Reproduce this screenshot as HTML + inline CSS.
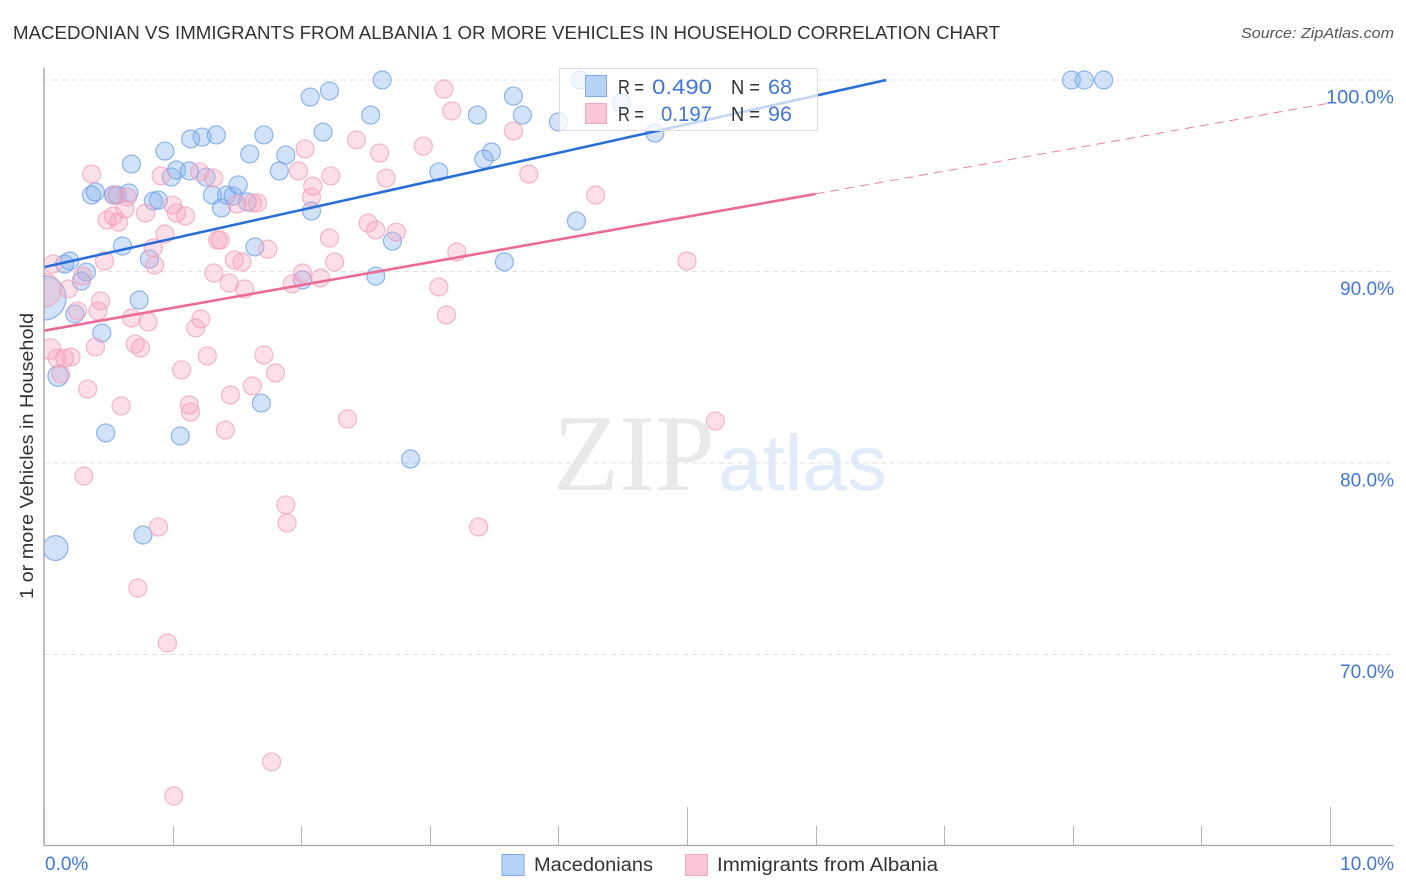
<!DOCTYPE html>
<html lang="en">
<head>
<meta charset="utf-8">
<title>Macedonian vs Immigrants from Albania correlation chart</title>
<style>
html,body{margin:0;padding:0;background:#fff;width:1406px;height:892px;overflow:hidden}
svg{display:block;font-family:"Liberation Sans",sans-serif}
</style>
</head>
<body>
<svg id="chart" xmlns="http://www.w3.org/2000/svg" width="1406" height="892" viewBox="0 0 1406 892">
  <defs><clipPath id="plot-clip"><rect x="44" y="60" width="1350" height="785"/></clipPath></defs>
  <g>
    <text x="553" y="490" font-family="'Liberation Serif',serif" font-size="109" fill="#e9e9e9" textLength="162" lengthAdjust="spacingAndGlyphs">ZIP</text>
    <text x="718" y="490" font-size="79" fill="#e1ebf9" textLength="169" lengthAdjust="spacingAndGlyphs">atlas</text>
  </g>
  <g id="grid"></g>
  <g id="points" clip-path="url(#plot-clip)"></g>
  <rect x="10" y="60" width="33.5" height="790" fill="#fff"/>
  <g id="lines"></g>
  <g id="axes"></g>
  <text x="13" y="39" font-size="18.5" fill="#333" textLength="987" lengthAdjust="spacingAndGlyphs">MACEDONIAN VS IMMIGRANTS FROM ALBANIA 1 OR MORE VEHICLES IN HOUSEHOLD CORRELATION CHART</text>
  <text x="1394" y="38" font-size="15" font-style="italic" fill="#555" text-anchor="end" textLength="153" lengthAdjust="spacingAndGlyphs">Source: ZipAtlas.com</text>
  <text transform="translate(33,456) rotate(-90)" font-size="18" fill="#333" text-anchor="middle" textLength="286" lengthAdjust="spacingAndGlyphs">1 or more Vehicles in Household</text>
  <g>
    <rect x="559.5" y="68.5" width="258" height="62" fill="#fff" fill-opacity="0.72" stroke="#ddd"/>
    <rect x="585.5" y="75.5" width="21" height="21" fill="#b6d2f7" stroke="#7fa9e6"/>
    <rect x="585.5" y="103.5" width="21" height="20" fill="#fcc6d8" stroke="#f2a9c0"/>
    <text x="618" y="94" font-size="20" fill="#333" textLength="26" lengthAdjust="spacingAndGlyphs">R =</text>
    <text x="652" y="94" font-size="21" fill="#4177d8" textLength="60" lengthAdjust="spacingAndGlyphs">0.490</text>
    <text x="731" y="94" font-size="20" fill="#333" textLength="29" lengthAdjust="spacingAndGlyphs">N =</text>
    <text x="768" y="94" font-size="21" fill="#4177d8" textLength="24" lengthAdjust="spacingAndGlyphs">68</text>
    <text x="618" y="121" font-size="20" fill="#333" textLength="26" lengthAdjust="spacingAndGlyphs">R =</text>
    <text x="661" y="121" font-size="21" fill="#4177d8" textLength="51" lengthAdjust="spacingAndGlyphs">0.197</text>
    <text x="731" y="121" font-size="20" fill="#333" textLength="29" lengthAdjust="spacingAndGlyphs">N =</text>
    <text x="768" y="121" font-size="21" fill="#4177d8" textLength="24" lengthAdjust="spacingAndGlyphs">96</text>
  </g>
  <g>
    <rect x="502" y="854.5" width="22" height="21" fill="#b6d2f7" stroke="#7fa9e6"/>
    <text x="534" y="871" font-size="19" fill="#333" textLength="119" lengthAdjust="spacingAndGlyphs">Macedonians</text>
    <rect x="685.5" y="854.5" width="22" height="21" fill="#fcc6d8" stroke="#f2a9c0"/>
    <text x="717" y="871" font-size="19" fill="#333" textLength="221" lengthAdjust="spacingAndGlyphs">Immigrants from Albania</text>
  </g>
</svg>
<script>
const yTicks = [100, 90, 80, 70];
const yTickLabels = ['100.0%', '90.0%', '80.0%', '70.0%'];
const xTicks = [0, 1, 2, 3, 4, 5, 6, 7, 8, 9, 10];
const xMajorTicks = [0, 5, 10];
const xEndLabels = ['0.0%', '10.0%'];

const macedonianX = [0,0.09,0.11,0.16,0.20,0.33,0.29,0.24,0.45,0.74,0.61,0.82,0.37,0.40,0.54,0.57,0.66,0.68,0.85,0.89,0.94,0.99,1.03,1.13,1.14,1.23,1.34,1.26,1.31,1.38,1.42,1.47,1.51,1.58,1.64,1.60,1.71,1.83,1.88,2.07,2.22,2.17,2.08,2.01,2.63,2.54,3.37,3.65,3.72,4.00,4.17,4.49,4.75,3.48,3.42,3.07,2.71,2.58,3.58,4.14,1.69,0.48,1.06,0.77,2.85,7.99,8.09,8.24];
const macedonianY = [88.62,75.56,84.54,90.39,90.55,89.97,89.50,87.78,86.79,88.51,91.33,90.65,93.99,94.15,93.99,93.99,94.10,95.61,93.68,93.73,96.29,94.93,95.30,95.25,96.92,97.02,97.13,94.93,93.99,93.32,93.99,93.94,94.52,93.63,91.28,96.14,97.13,95.25,96.08,99.11,99.43,97.28,93.16,89.56,100,98.17,98.17,99.16,98.17,97.81,100,98.80,97.23,96.24,95.87,95.20,91.59,89.76,90.50,92.64,83.13,81.57,81.41,76.24,80.21,100,100,100];
const macedonianHeavy = [[0, 6], [1, 1.9], [2, 1.3]];

const albaniaX = [0.37,0.91,1.21,1.32,2.03,1.98,2.09,2.23,2.08,0.65,0.63,0.49,0.54,0.58,0.79,1.00,1.03,1.10,1.50,1.62,1.66,0.94,0.85,0.86,0.47,0.07,1.35,1.37,1.48,1.54,1.74,2.22,2.26,1.32,1.44,1.56,1.93,2.01,2.15,0.19,0,0.44,0.26,0.42,0.68,0.81,1.22,1.18,0.05,0.10,0.16,0.21,0.13,0.40,0.71,0.75,1.27,1.07,1.71,1.80,1.62,1.45,0.34,0.60,1.13,1.14,1.41,2.36,0.31,1.88,1.89,0.89,0.73,0.96,1.77,1.01,3.11,3.17,2.43,2.61,2.95,2.66,3.65,3.77,4.29,2.52,2.58,2.74,3.21,5.00,3.07,3.13,5.22,3.38,0.30,0.55];
const albaniaY = [95.09,94.99,95.20,94.88,96.40,95.25,94.46,94.99,93.89,93.89,93.26,92.69,92.90,92.58,93.05,93.47,93.05,92.90,93.52,93.58,93.58,91.96,91.23,90.34,90.55,90.39,91.64,91.64,90.60,90.50,91.17,91.75,90.50,89.92,89.40,89.09,89.35,89.92,89.66,89.09,89.03,88.46,87.94,87.94,87.57,87.36,87.52,87.05,85.95,85.48,85.48,85.53,84.65,86.06,86.21,86.01,85.59,84.86,85.64,84.70,84.02,83.55,83.86,82.98,83.03,82.66,81.72,82.30,79.32,77.81,76.87,76.66,73.47,70.60,64.39,62.61,99.53,98.38,96.87,96.19,96.55,94.88,97.34,95.09,93.99,92.53,92.17,92.06,91.02,90.55,89.19,87.73,82.19,76.66,89.76,93.99];
const albaniaHeavy = [[40, 3.6], [48, 1.3]];

const macedonianTrendX = [0, 6.55];
const macedonianTrendY = [90.23, 100];
const albaniaTrendX = [0, 6.00];
const albaniaTrendY = [86.91, 94.05];
const albaniaExtensionX = [6.00, 10];
const albaniaExtensionY = [94.05, 98.80];

const SVG_NS = 'http://www.w3.org/2000/svg';
const PLOT_LEFT = 44, PLOT_RIGHT = 1394, PLOT_TOP = 68, PLOT_BOTTOM = 845;
const X0 = 44, XSCALE = 128.6, Y100 = 80, YSCALE = 19.15, BASE_R = 9;
function xAxis(v) { return X0 + v * XSCALE; }
function yAxis(v) { return Y100 + (100 - v) * YSCALE; }
function make(tag, attrs, parent) {
  const el = document.createElementNS(SVG_NS, tag);
  for (const k in attrs) el.setAttribute(k, attrs[k]);
  parent.appendChild(el);
  return el;
}
const grid = document.getElementById('grid');
const axes = document.getElementById('axes');
const pointsLayer = document.getElementById('points');
const linesLayer = document.getElementById('lines');

yTicks.forEach(function (t, i) {
  const y = yAxis(t);
  const line = make('line', {x1: PLOT_LEFT, x2: PLOT_RIGHT, y1: y, y2: y, stroke: '#e0e0e0', 'stroke-width': 1, 'stroke-dasharray': '5 4'}, grid);
  
  
  const label = make('text', {x: PLOT_RIGHT, y: y + 23.5, 'font-size': 19, fill: '#4177d8', 'text-anchor': 'end', textLength: i === 0 ? 68 : 54, lengthAdjust: 'spacingAndGlyphs'}, axes);
  label.textContent = yTickLabels[i];
  
  
});

const yAxisLine = make('line', {x1: PLOT_LEFT, x2: PLOT_LEFT, y1: PLOT_TOP, y2: PLOT_BOTTOM + 0.5, stroke: '#aaa', 'stroke-width': 1.5}, axes);


const xAxisLine = make('line', {x1: PLOT_LEFT, x2: PLOT_RIGHT, y1: PLOT_BOTTOM + 0.5, y2: PLOT_BOTTOM + 0.5, stroke: '#aaa', 'stroke-width': 1.2}, axes);



xTicks.forEach(function (t) {
  const x = Math.round(xAxis(t)) + 0.5;
  const major = xMajorTicks.indexOf(t) >= 0;
  const tick = make('line', {x1: x, x2: x, y1: major ? 807 : 826, y2: PLOT_BOTTOM, stroke: '#b5b5b5', 'stroke-width': 1}, axes);
  
  
});

const xLabelStart = make('text', {x: 45, y: 870, 'font-size': 19, fill: '#4177d8'}, axes);
xLabelStart.textContent = xEndLabels[0];


const xLabelEnd = make('text', {x: PLOT_RIGHT, y: 870, 'font-size': 19, fill: '#4177d8', 'text-anchor': 'end'}, axes);
xLabelEnd.textContent = xEndLabels[1];



function weightOf(heavy, i) {
  for (let k = 0; k < heavy.length; k++) if (heavy[k][0] === i) return heavy[k][1];
  return 1;
}
macedonianX.forEach(function (v, i) {
  const c = make('circle', {cx: xAxis(v), cy: yAxis(macedonianY[i]), r: BASE_R * Math.sqrt(weightOf(macedonianHeavy, i)), fill: '#7fb0ee', 'fill-opacity': 0.35, stroke: '#6d9fe4', 'stroke-opacity': 0.75, 'stroke-width': 1.2}, pointsLayer);
  
  
});
albaniaX.forEach(function (v, i) {
  const c = make('circle', {cx: xAxis(v), cy: yAxis(albaniaY[i]), r: BASE_R * Math.sqrt(weightOf(albaniaHeavy, i)), fill: '#f5a3bd', 'fill-opacity': 0.35, stroke: '#f0a0bb', 'stroke-opacity': 0.75, 'stroke-width': 1.2}, pointsLayer);
  
  
});

const blueTrend = make('line', {x1: xAxis(macedonianTrendX[0]), y1: yAxis(macedonianTrendY[0]), x2: xAxis(macedonianTrendX[1]), y2: yAxis(macedonianTrendY[1]), stroke: '#2a6fd8', 'stroke-width': 2.6}, linesLayer);


const pinkTrend = make('line', {x1: xAxis(albaniaTrendX[0]), y1: yAxis(albaniaTrendY[0]), x2: xAxis(albaniaTrendX[1]), y2: yAxis(albaniaTrendY[1]), stroke: '#ec6a96', 'stroke-width': 2.6}, linesLayer);


const pinkExtension = make('line', {x1: xAxis(albaniaExtensionX[0]), y1: yAxis(albaniaExtensionY[0]), x2: xAxis(albaniaExtensionX[1]), y2: yAxis(albaniaExtensionY[1]), stroke: '#ec7fa3', 'stroke-width': 1, 'stroke-dasharray': '9 6'}, linesLayer);


</script>
</body>
</html>
